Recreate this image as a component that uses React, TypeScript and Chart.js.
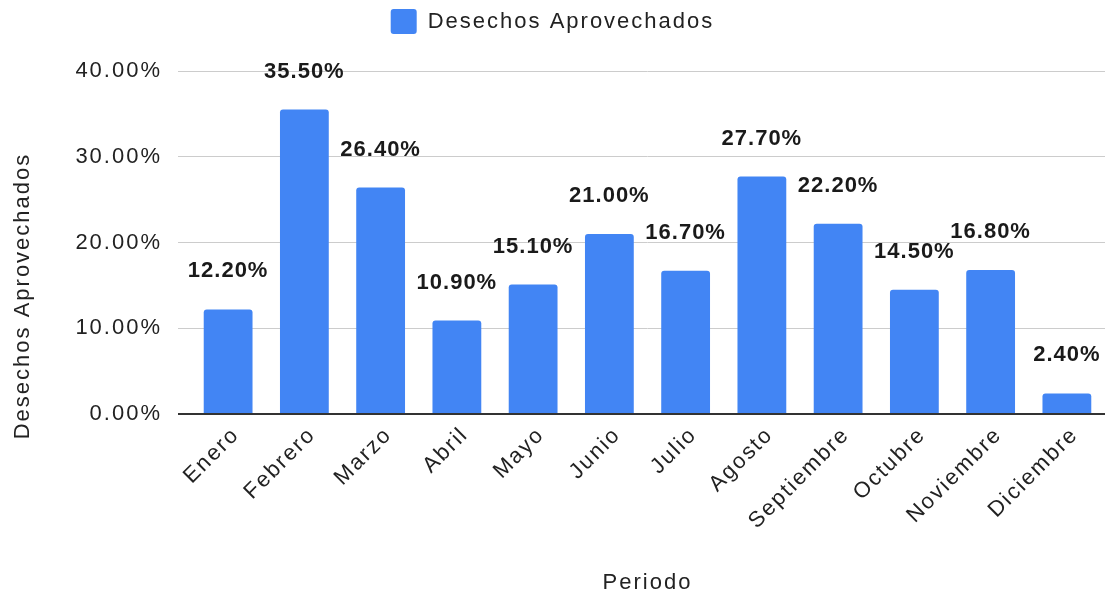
import React, { useEffect, useRef } from "react";
import { Chart, registerables } from "chart.js";

Chart.register(...registerables);

const categories = [
  "Enero", "Febrero", "Marzo", "Abril", "Mayo", "Junio",
  "Julio", "Agosto", "Septiembre", "Octubre", "Noviembre", "Diciembre",
];
const seriesName = "Desechos Aprovechados";
const values = [12.2, 35.5, 26.4, 10.9, 15.1, 21.0, 16.7, 27.7, 22.2, 14.5, 16.8, 2.4];
const yMin = 0;
const yMax = 40;
const yStep = 10;
const xTitle = "Periodo";
const yTitle = "Desechos Aprovechados";

const FONT = "'Liberation Sans', Arial, sans-serif";
const TEXT = "#222222";
const BAR = "#4285F4";
const SPACING = "2px";

export default function App() {
  const ref = useRef<HTMLCanvasElement | null>(null);

  useEffect(() => {
    document.body.style.margin = "0";
    const canvas = ref.current;
    if (!canvas) return;

    const spacingPlugin = {
      id: "spacing",
      beforeInit(chart: any) {
        (chart.ctx as any).letterSpacing = SPACING;
      },
      beforeLayout(chart: any) {
        (chart.ctx as any).letterSpacing = SPACING;
        const lg = chart.legend;
        if (lg && !lg.__patched) {
          const orig = lg.fit;
          lg.fit = function () {
            orig.call(this);
            this.height += 27;
          };
          lg.__patched = true;
        }
      },
    };

    const labelPlugin = {
      id: "barLabels",
      afterDatasetsDraw(chart: any) {
        const ctx = chart.ctx;
        const meta = chart.getDatasetMeta(0);
        ctx.save();
        ctx.font = `bold 22px ${FONT}`;
        (ctx as any).letterSpacing = "1px";
        ctx.fillStyle = "#1a1a1a";
        ctx.textAlign = "center";
        ctx.textBaseline = "middle";
        meta.data.forEach((el: any, i: number) => {
          const v = values[i];
          ctx.fillText(v.toFixed(2) + "%", el.x, el.y - 38);
        });
        ctx.restore();
      },
      afterDraw(chart: any) {
        const ctx = chart.ctx;
        ctx.save();
        ctx.font = `22px ${FONT}`;
        (ctx as any).letterSpacing = SPACING;
        ctx.fillStyle = TEXT;
        ctx.textAlign = "center";
        ctx.textBaseline = "middle";
        ctx.translate(23, 296);
        ctx.rotate(-Math.PI / 2);
        ctx.fillText(yTitle, 0, 0);
        ctx.restore();
      },
    };

    const chart = new Chart(canvas, {
      type: "bar",
      data: {
        labels: categories,
        datasets: [
          {
            label: seriesName,
            data: values,
            backgroundColor: BAR,
            borderColor: BAR,
            borderWidth: 0,
            borderRadius: { topLeft: 3, topRight: 3, bottomLeft: 0, bottomRight: 0 },
            borderSkipped: "bottom",
            barPercentage: 0.64,
            categoryPercentage: 1,
          },
        ],
      },
      options: {
        animation: false,
        responsive: false,
        devicePixelRatio: 1,
        layout: { padding: { left: 0, right: 1, top: 0, bottom: 0 } },
        plugins: {
          legend: {
            display: true,
            position: "top",
            labels: {
              boxWidth: 26,
              boxHeight: 25,
              useBorderRadius: true,
              borderRadius: 3,
              color: TEXT,
              font: { size: 22, family: FONT },
              padding: 9,
            },
          },
          tooltip: { enabled: false },
        },
        scales: {
          x: {
            grid: { display: false, drawTicks: false },
            border: { display: false },
            ticks: {
              color: TEXT,
              font: { size: 22, family: FONT },
              minRotation: 45,
              maxRotation: 45,
              padding: 8,
              labelOffset: 8,
              autoSkip: false,
            },
            title: {
              display: true,
              text: xTitle,
              color: TEXT,
              font: { size: 22, family: FONT },
              padding: { top: 0, bottom: 0 },
            },
            afterFit(scale: any) {
              scale.height = 596 - 414;
            },
          },
          y: {
            min: yMin,
            max: yMax,
            ticks: {
              stepSize: yStep,
              color: TEXT,
              font: { size: 22, family: FONT },
              padding: 16,
              callback: (v: any) => Number(v).toFixed(2) + "%",
            },
            grid: {
              color: (c: any) => (c.tick && c.tick.value === 0 ? "#333333" : "#cccccc"),
              tickColor: (c: any) => (c.tick && c.tick.value === 0 ? "#333333" : "#cccccc"),
              lineWidth: (c: any) => (c.tick && c.tick.value === 0 ? 2 : 1),
              tickWidth: (c: any) => (c.tick && c.tick.value === 0 ? 2 : 1),
              drawTicks: true,
              tickLength: 12,
            },
            border: { display: false },
            afterFit(scale: any) {
              scale.width = 190;
            },
          },
        },
      },
      plugins: [spacingPlugin, labelPlugin],
    } as any);

    return () => chart.destroy();
  }, []);

  return (
    <div style={{ width: 1106, height: 596 }}>
      <canvas ref={ref} width={1106} height={596} />
    </div>
  );
}
